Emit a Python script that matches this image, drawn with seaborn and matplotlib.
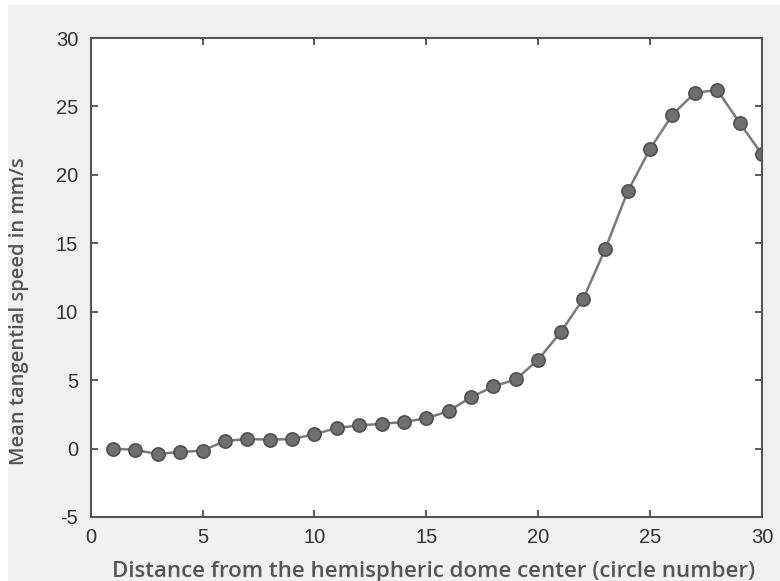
import matplotlib
matplotlib.use("Agg")
import matplotlib.pyplot as plt
import seaborn as sns
import pandas as pd
from matplotlib.patches import Rectangle

circle_number = list(range(1, 31))
mean_speed = [0.0, -0.1, -0.4, -0.25, -0.15, 0.55, 0.7, 0.65, 0.7, 1.05,
              1.5, 1.7, 1.8, 1.95, 2.2, 2.75, 3.75, 4.55, 5.05, 6.5,
              8.5, 10.9, 14.6, 18.8, 21.9, 24.4, 26.0, 26.2, 23.8, 21.5]
x_ticks = [0, 5, 10, 15, 20, 25, 30]
y_ticks = [-5, 0, 5, 10, 15, 20, 25, 30]

df = pd.DataFrame({"x": circle_number, "y": mean_speed})

sns.set_theme(style="white")
plt.rcParams['font.family'] = ['Liberation Sans', 'DejaVu Sans']
plt.rcParams['axes.unicode_minus'] = False

fig = plt.figure(figsize=(7.8, 5.81), dpi=100, facecolor="white")
fig.patches.append(Rectangle((8/780, 0), 1 - 8/780, 1 - 5/581, transform=fig.transFigure,
                             facecolor="#f0f0f0", edgecolor="none", zorder=-10))
ax = fig.add_axes([90.7/780, (581-517)/581, (762-90.7)/780, (517-38)/581])
ax.set_facecolor("white")

sns.lineplot(data=df, x="x", y="y", ax=ax, color="#7a7a7a", linewidth=1.8,
             marker="o", markersize=9.5, markerfacecolor="#6f6f6f",
             markeredgecolor="#505050", markeredgewidth=1.2)

ax.set_xlim(0, 30)
ax.set_ylim(-5, 30)
ax.set_xticks(x_ticks)
ax.set_yticks(y_ticks)
ax.tick_params(direction="in", length=5, width=1.2, color="#404040",
               labelsize=14.5, labelcolor="#333333", top=True, right=True,
               bottom=True, left=True, pad=9)
ax.tick_params(axis="x", pad=8)
for s in ax.spines.values():
    s.set_visible(True)
    s.set_color("#555555")
    s.set_linewidth(1.5)

ax.set_xlabel("Distance from the hemispheric dome center (circle number)",
              fontsize=16, color="#555555", family=["Open Sans", "DejaVu Sans"],
              fontweight="semibold")
ax.set_ylabel("Mean tangential speed in mm/s", fontsize=14.5, color="#555555",
              family=["Open Sans", "DejaVu Sans"], fontweight="semibold")
ax.xaxis.set_label_coords(0.51, -0.092)
ax.yaxis.set_label_coords(-0.092, 0.43)

fig.savefig("out.png", dpi=100, facecolor=fig.get_facecolor())
